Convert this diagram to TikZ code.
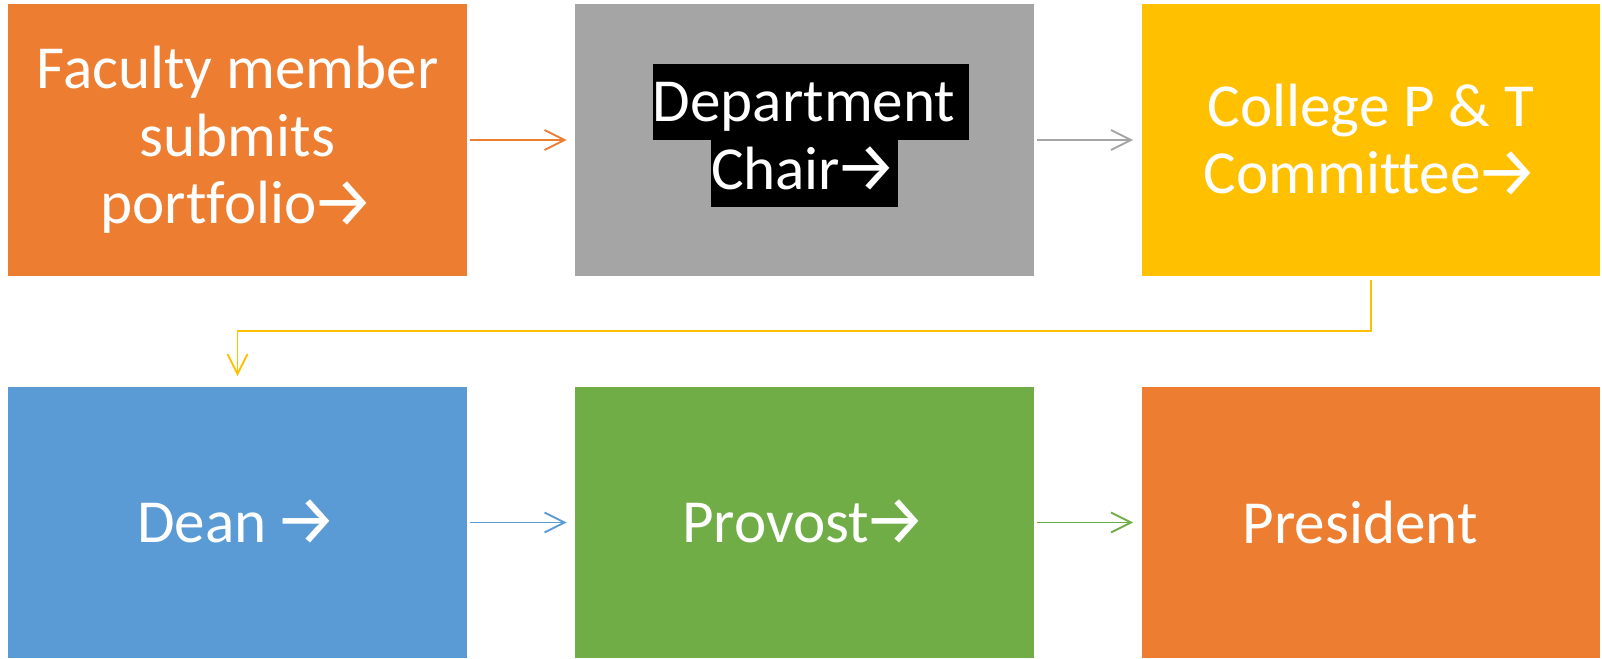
\documentclass[tikz,border=0pt]{standalone}
\usepackage{fontspec}
\setmainfont{Carlito}[Ligatures=NoCommon]
\newfontfamily\arrowfont{Fira Sans}
\newcommand{\nextarrow}{{\arrowfont\fontsize{40}{40}\selectfont\kern-0.08em\raisebox{-1.5pt}{→}}}
\usetikzlibrary{arrows.meta,positioning}
\definecolor{stageorange}{HTML}{ED7D31}
\definecolor{stagegray}{HTML}{A5A5A5}
\definecolor{stageyellow}{HTML}{FFC000}
\definecolor{stageblue}{HTML}{5B9BD5}
\definecolor{stagegreen}{HTML}{70AD47}
\tikzset{
  stage/.style={minimum width=9.18cm,minimum height=5.44cm,inner sep=0pt,
    text=white,align=center},
  hlbox/.style={fill=black,text=white,inner sep=0pt,text depth=0.36cm},
  flow/.style={line width=1.1pt,-{Straight Barb[length=0.4cm,width=0.4cm]},
    shorten <=0.06cm,shorten >=0.16cm}
}

\begin{document}
\begin{tikzpicture}[x=0.02cm,y=0.02cm,font=\fontsize{34.8}{38.4}\selectfont]
  \useasboundingbox (0,0) rectangle (1602,659);
  \node[stage,fill=stageorange] (faculty) at (237.5,519) {Faculty member\\submits\\portfolio\nextarrow};
  \node[stage,fill=stagegray] (chair) at (804.5,519) {};
  \node[stage,fill=stageyellow] (college) at (1371,519) {College P \& T\\Committee\nextarrow};
  \node[stage,fill=stageblue] (dean) at (237.5,136.5) {Dean \nextarrow};
  \node[stage,fill=stagegreen] (provost) at (804.5,136.5) {Provost\nextarrow};
  \node[stage,fill=stageorange] (president) at (1371,136.5) {President\hspace*{0.44cm}};

  \node[hlbox,text height=1.16cm,above=0pt of chair.center,xshift=0.13cm] (chairtop) {Department\ \null};
  \node[hlbox,text height=0.98cm,below=0pt of chair.center] (chairbottom) {Chair\nextarrow};

  \coordinate (bend) at (237.5,328);
  \draw[flow,stageorange] (faculty) -- (chair);
  \draw[flow,stagegray] (chair) -- (college);
  \draw[flow,stageyellow,shorten <=0.08cm,shorten >=0.2cm] (college.south) |- (bend) -- (dean.north);
  \draw[flow,stageblue] (dean) -- (provost);
  \draw[flow,stagegreen] (provost) -- (president);
\end{tikzpicture}
\end{document}
